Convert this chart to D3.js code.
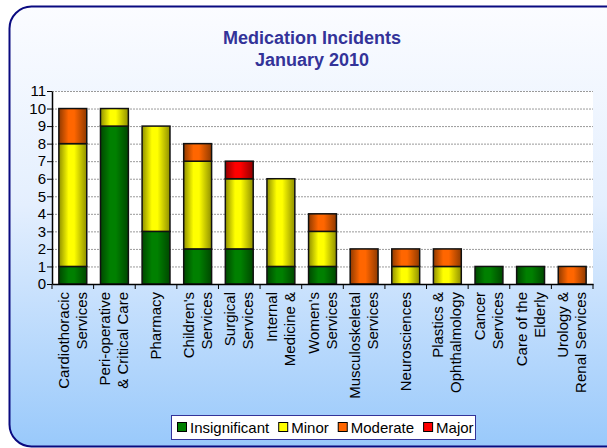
<!DOCTYPE html>
<html lang="en">
  <head>
    <meta charset="UTF-8" />
    <title>Medication Incidents January 2010</title>
    <script src="https://d3js.org/d3.v7.min.js"></script>
    <style>
      body { margin: 0; background: #fff; }
      text { font-family: "Liberation Sans", Arial, sans-serif; }
    </style>
  </head>
  <body>
    <div id="chart"></div>
    <script>
      // categories (x labels, split in lines)
      const categories = [
        "Cardiothoracic\nServices",
        "Peri-operative\n& Critical Care",
        "Pharmacy",
        "Children's\nServices",
        "Surgical\nServices",
        "Internal\nMedicine &",
        "Women's\nServices",
        "Musculoskeletal\nServices",
        "Neurosciences",
        "Plastics &\nOphthalmology",
        "Cancer\nServices",
        "Care of the\nElderly",
        "Urology &\nRenal Services"
      ];
      const series = ["Insignificant", "Minor", "Moderate", "Major"];
      const insignificant = [1, 9, 3, 2, 2, 1, 1, 0, 0, 0, 1, 1, 0];
      const minor = [7, 1, 6, 5, 4, 5, 2, 0, 1, 1, 0, 0, 0];
      const moderate = [2, 0, 0, 1, 0, 0, 1, 2, 1, 1, 0, 0, 1];
      const major = [0, 0, 0, 0, 1, 0, 0, 0, 0, 0, 0, 0, 0];
      const yTicks = [0, 1, 2, 3, 4, 5, 6, 7, 8, 9, 10, 11];

      const colors = ["#008000", "#ffff00", "#ff6600", "#ff0000"];

      const width = 607, height = 448;
      const margin = { left: 52, right: 14, top: 91, bottom: 164 };

      const rows = categories.map((c, i) => ({
        cat: c,
        Insignificant: insignificant[i],
        Minor: minor[i],
        Moderate: moderate[i],
        Major: major[i]
      }));

      const svg = d3.select("#chart").append("svg")
        .attr("width", width).attr("height", height);

      const defs = svg.append("defs");
      const bg = defs.append("linearGradient").attr("id", "bg")
        .attr("x1", 0).attr("y1", 0).attr("x2", 0).attr("y2", 1);
      bg.append("stop").attr("offset", "0%").attr("stop-color", "#fbfcff");
      bg.append("stop").attr("offset", "45%").attr("stop-color", "#e4effe");
      bg.append("stop").attr("offset", "100%").attr("stop-color", "#99c9fb");

      // horizontal shading for the bars
      colors.forEach((c, i) => {
        const g = defs.append("linearGradient").attr("id", "bar" + i)
          .attr("x1", 0).attr("y1", 0).attr("x2", 1).attr("y2", 0);
        const dark = d3.color(c).darker(1.6);
        g.append("stop").attr("offset", "0%").attr("stop-color", dark);
        g.append("stop").attr("offset", "35%").attr("stop-color", c);
        g.append("stop").attr("offset", "55%").attr("stop-color", c);
        g.append("stop").attr("offset", "100%").attr("stop-color", dark);
      });

      // chart area
      svg.append("rect")
        .attr("x", 9.5).attr("y", 6.5)
        .attr("width", 625).attr("height", 440)
        .attr("rx", 22)
        .attr("fill", "url(#bg)")
        .attr("stroke", "#0a0a80")
        .attr("stroke-width", 2);

      // title
      const title = svg.append("text")
        .attr("x", 312).attr("y", 44)
        .attr("text-anchor", "middle")
        .attr("fill", "#333399")
        .style("font-size", "18px")
        .style("font-weight", "bold");
      title.append("tspan").attr("x", 312).text("Medication Incidents");
      title.append("tspan").attr("x", 312).attr("dy", 22).text("January 2010");

      const x = d3.scaleBand()
        .domain(categories)
        .range([margin.left, width - margin.right])
        .paddingInner(0.33)
        .paddingOuter(0.165);

      const y = d3.scaleLinear()
        .domain([0, 11])
        .range([height - margin.bottom, margin.top]);

      // plot area
      svg.append("rect")
        .attr("x", margin.left).attr("y", y(11))
        .attr("width", width - margin.right - margin.left)
        .attr("height", y(0) - y(11))
        .attr("fill", "#ffffff");

      // gridlines
      svg.append("g")
        .selectAll("line")
        .data(yTicks.filter((d) => d > 0))
        .join("line")
        .attr("x1", margin.left).attr("x2", width - margin.right)
        .attr("y1", (d) => y(d) + 0.5).attr("y2", (d) => y(d) + 0.5)
        .attr("stroke", "#9a9a9a")
        .attr("stroke-dasharray", "2,1");

      // stacked bars
      const stack = d3.stack().keys(series);
      const layers = stack(rows);

      svg.append("g")
        .selectAll("g")
        .data(layers)
        .join("g")
        .attr("fill", (d, i) => "url(#bar" + i + ")")
        .selectAll("rect")
        .data((d) => d.filter((s) => s[1] > s[0]))
        .join("rect")
        .attr("x", (d) => x(d.data.cat))
        .attr("y", (d) => y(d[1]))
        .attr("width", x.bandwidth())
        .attr("height", (d) => y(d[0]) - y(d[1]))
        .attr("stroke", "#111")
        .attr("stroke-width", 1.5);

      // y axis
      const yAxis = svg.append("g")
        .attr("transform", `translate(${margin.left},0)`)
        .call(d3.axisLeft(y).tickValues(yTicks).tickSize(5).tickSizeOuter(0));
      yAxis.select(".domain").attr("stroke", "#000").attr("stroke-width", 1.5);
      yAxis.selectAll(".tick line").attr("stroke", "#000");
      yAxis.selectAll(".tick text")
        .attr("x", -6)
        .style("font-size", "15px")
        .style("font-family", '"Liberation Sans", Arial, sans-serif')
        .attr("fill", "#000");

      // x axis with ticks between categories
      const xAxis = svg.append("g")
        .attr("transform", `translate(0,${y(0)})`)
        .call(d3.axisBottom(x).tickSize(0).tickSizeOuter(0).tickFormat(""));
      xAxis.select(".domain").attr("stroke", "#000").attr("stroke-width", 1.5);

      const step = x.step();
      const bounds = categories.map((c) => x(c) - step * 0.165).concat([width - margin.right]);
      xAxis.selectAll(".sep")
        .data(bounds)
        .join("line")
        .attr("class", "sep")
        .attr("x1", (d) => d).attr("x2", (d) => d)
        .attr("y1", 0).attr("y2", 5)
        .attr("stroke", "#000");

      // rotated category labels
      const labels = svg.append("g")
        .selectAll("g")
        .data(categories)
        .join("g")
        .attr("transform", (d) => `translate(${x(d) + x.bandwidth() / 2},${y(0) + 8}) rotate(-90)`);

      labels.each(function (d) {
        const lines = d.split("\n");
        const t = d3.select(this).append("text")
          .attr("text-anchor", "end")
          .style("font-size", "15px")
          .attr("fill", "#000");
        lines.forEach((l, i) => {
          t.append("tspan")
            .attr("x", 0)
            .attr("y", 5 + (i - (lines.length - 1) / 2) * 18)
            .text(l);
        });
      });

      // legend
      const legend = svg.append("g");
      legend.append("rect")
        .attr("x", 171.5).attr("y", 415.5)
        .attr("width", 304).attr("height", 24)
        .attr("fill", "#fff")
        .attr("stroke", "#333399")
        .attr("stroke-width", 1);

      let lx = 177;
      series.forEach((s, i) => {
        legend.append("rect")
          .attr("x", lx + 0.5).attr("y", 422.5)
          .attr("width", 9).attr("height", 9)
          .attr("fill", colors[i])
          .attr("stroke", "#000");
        const t = legend.append("text")
          .attr("x", lx + 13).attr("y", 433)
          .style("font-size", "15px")
          .attr("fill", "#000")
          .text(s);
        lx += 13 + t.node().getComputedTextLength() + 9;
      });
    </script>
  </body>
</html>
